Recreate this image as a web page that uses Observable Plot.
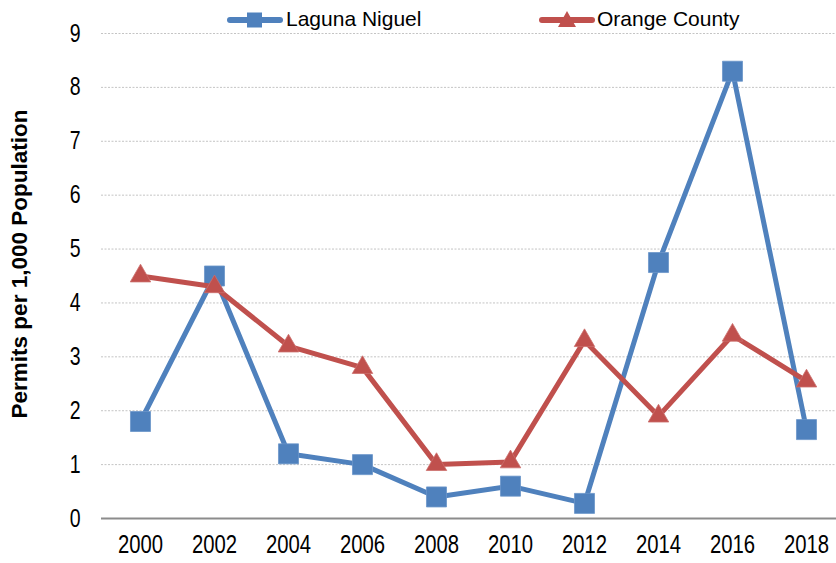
<!DOCTYPE html>
<html>
<head>
<meta charset="utf-8">
<script src="https://cdn.jsdelivr.net/npm/d3@7"></script>
<script src="https://cdn.jsdelivr.net/npm/@observablehq/plot@0.6"></script>
<style>
  html, body { margin: 0; padding: 0; background: #fff; overflow: hidden; }
  #wrap { position: relative; width: 836px; height: 563px; }
  #legend { position: absolute; top: 0; left: 0; width: 836px; height: 32px;
    font-family: "Liberation Sans", Arial, sans-serif; font-size: 21px; color: #000; }
  .item { position: absolute; top: 0; height: 32px; }
  .item svg { position: absolute; left: 0; top: 0; }
  .item span { position: absolute; top: 8px; white-space: nowrap; line-height: 1; }
  #chart svg { font-family: "Liberation Sans", Arial, sans-serif; }
</style>
</head>
<body>
<div id="wrap">
  <div id="chart"></div>
  <div id="legend"></div>
</div>
<script>
const years = ["2000","2002","2004","2006","2008","2010","2012","2014","2016","2018"];
const lagunaNiguel = [1.8, 4.5, 1.2, 1.0, 0.4, 0.6, 0.28, 4.75, 8.3, 1.65];
const orangeCounty = [4.5, 4.3, 3.2, 2.8, 1.0, 1.05, 3.3, 1.9, 3.4, 2.55];
const yTicks = [0,1,2,3,4,5,6,7,8,9];
const seriesNames = ["Laguna Niguel", "Orange County"];
const seriesColors = ["#4F81BD", "#C0504D"];
const yTitle = "Permits per 1,000 Population";

const ln = years.map((y, i) => ({year: y, value: lagunaNiguel[i]}));
const oc = years.map((y, i) => ({year: y, value: orangeCounty[i]}));

const chart = Plot.plot({
  width: 836,
  height: 563,
  marginLeft: 101,
  marginRight: 0,
  marginTop: 33,
  marginBottom: 45,
  x: {type: "point", domain: years, range: [101, 845], padding: 0.5},
  y: {domain: [0, 9], range: [518, 33]},
  marks: [
    Plot.ruleY(yTicks.filter(d => d > 0), {stroke: "#c4c4c4", strokeWidth: 1, strokeDasharray: "2,1.5"}),
    Plot.ruleY([0], {stroke: "#8c8c8c", strokeWidth: 2}),
    Plot.axisY({ticks: yTicks, tickSize: 0, tickPadding: 21, fontSize: 25, tickFormat: d => String(d), label: null}),
    Plot.axisX({tickSize: 0, tickPadding: 16, fontSize: 26, label: null}),
    Plot.text([yTitle], {frameAnchor: "left", text: d => d, rotate: -90, textAnchor: "middle", lineAnchor: "middle",
      dx: -82, dy: -12, fontSize: 22.5, fontWeight: "bold", fill: "#000"}),
    Plot.line(ln, {x: "year", y: "value", stroke: seriesColors[0], strokeWidth: 5, strokeLinejoin: "round"}),
    Plot.dot(ln, {x: "year", y: "value", symbol: "square", r: 11.3, fill: seriesColors[0], stroke: "#6b95c9", strokeWidth: 0.8}),
    Plot.line(oc, {x: "year", y: "value", stroke: seriesColors[1], strokeWidth: 5, strokeLinejoin: "round"}),
    Plot.dot(oc, {x: "year", y: "value", symbol: "triangle", r: 7.6, fill: seriesColors[1], stroke: "#cc6f6c", strokeWidth: 0.8})
  ]
});
// condense tick labels horizontally (narrow-font look)
chart.querySelectorAll('g[aria-label="x-axis tick label"] text, g[aria-label="y-axis tick label"] text').forEach(t => {
  const tr = t.getAttribute("transform") || "";
  t.setAttribute("transform", tr + " scale(0.78,1)");
});
document.getElementById("chart").appendChild(chart);

// HTML legend
const legend = document.getElementById("legend");
const lefts = [227, 539];
seriesNames.forEach((name, i) => {
  const item = document.createElement("div");
  item.className = "item";
  item.style.left = lefts[i] + "px";
  const marker = i === 0
    ? `<rect x="20" y="12.5" width="15" height="15" fill="${seriesColors[i]}"/>`
    : `<path d="M28,11 L37,27 L19,27 Z" fill="${seriesColors[i]}"/>`;
  item.innerHTML = `<svg width="58" height="32"><line x1="3" y1="20" x2="53" y2="20" stroke="${seriesColors[i]}" stroke-width="6" stroke-linecap="round"/>${marker}</svg><span style="left:${i === 0 ? 59 : 58}px">${name}</span>`;
  legend.appendChild(item);
});
</script>
</body>
</html>
